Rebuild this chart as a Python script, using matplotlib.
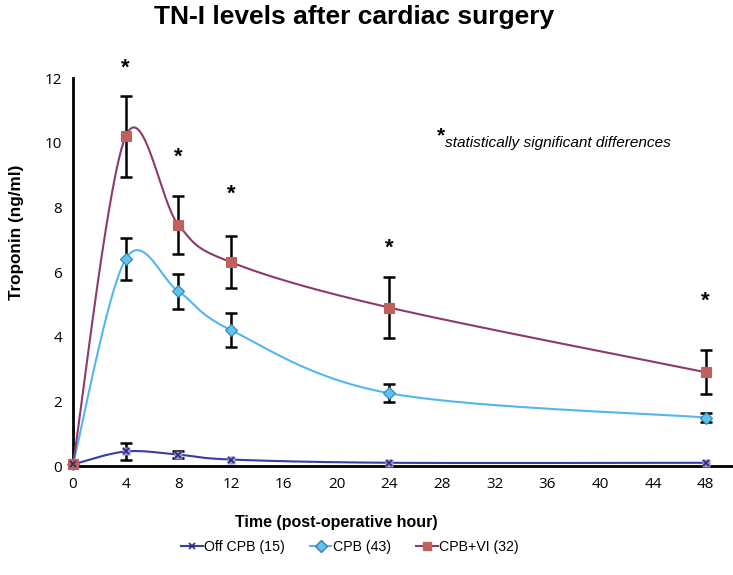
import numpy as np
import matplotlib
matplotlib.use("Agg")
import matplotlib.pyplot as plt
from matplotlib.lines import Line2D

# ---- data ----
hours = [0, 4, 8, 12, 24, 48]
off_cpb = [0.05, 0.45, 0.35, 0.2, 0.1, 0.1]
off_cpb_err = [0.0, 0.25, 0.1, 0.0, 0.0, 0.0]
cpb = [0.05, 6.4, 5.4, 4.2, 2.25, 1.5]
cpb_err = [0.0, 0.65, 0.55, 0.52, 0.28, 0.15]
cpb_vi = [0.05, 10.2, 7.45, 6.3, 4.9, 2.9]
cpb_vi_err = [0.0, 1.25, 0.9, 0.8, 0.95, 0.68]
star_x = [4, 8, 12, 24, 48]
star_y = [12.3, 9.55, 8.4, 6.75, 5.1]
labels = ["Off CPB (15)", "CPB (43)", "CPB+VI (32)"]

C_OFF, C_CPB, C_VI = "#3a3aa8", "#55b6ef", "#8c3a6c"
SANS = ["Liberation Sans", "DejaVu Sans"]


def smooth(xs, ys, sx=13.2, sy=32.3, n=60):
    """Excel-style smoothed line: cubic Bezier, control points from neighbours (in pixel space)."""
    P = np.column_stack([np.array(xs, float) * sx, np.array(ys, float) * sy])
    out = []
    for i in range(len(P) - 1):
        p0 = P[i - 1] if i > 0 else P[i]
        p1, p2 = P[i], P[i + 1]
        p3 = P[i + 2] if i + 2 < len(P) else P[i + 1]
        c1 = p1 + (p2 - p0) / 6
        c2 = p2 - (p3 - p1) / 6
        t = np.linspace(0, 1, n)[:, None]
        seg = (1 - t) ** 3 * p1 + 3 * (1 - t) ** 2 * t * c1 + 3 * (1 - t) * t ** 2 * c2 + t ** 3 * p2
        out.append(seg if i == 0 else seg[1:])
    B = np.vstack(out)
    return B[:, 0] / sx, B[:, 1] / sy


fig = plt.figure(figsize=(7.33, 5.75), dpi=100)
ax = fig.add_axes([73 / 733, 1 - 466 / 575, 659 / 733, 388 / 575])
ax.set_xlim(0, 50)
ax.set_ylim(0, 12)

series = [
    (off_cpb, off_cpb_err, C_OFF, "x", "#9b8fd6", 6),
    (cpb, cpb_err, C_CPB, "D", "#5cc4f2", 6),
    (cpb_vi, cpb_vi_err, C_VI, "s", "#c0605f", 7),
]
for ys, err, col, mk, mfc, ms in series:
    sx, sy = smooth(hours, ys)
    ax.plot(sx, sy, color=col, lw=1.5, zorder=3)
    keep = [i for i in range(len(hours)) if err[i] > 0]
    ax.errorbar([hours[i] for i in keep], [ys[i] for i in keep], yerr=[err[i] for i in keep],
                fmt="none", ecolor="black", elinewidth=1.8, capsize=4, capthick=1.8, zorder=4)
    if mk == "x":
        ax.plot(hours, ys, ls="none", marker="s", ms=6, mfc=mfc, mec="none", zorder=5, clip_on=False)
        ax.plot(hours, ys, ls="none", marker="x", ms=5, mew=1.2, color="#2b2b70", zorder=6, clip_on=False)
    else:
        ax.plot(hours, ys, ls="none", marker=mk, ms=ms, mfc=mfc,
                mec="#3a7fa8" if mk == "D" else mfc, mew=0.8, zorder=5, clip_on=False)

for x, y in zip(star_x, star_y):
    ax.text(x, y, "*", ha="center", va="center", fontsize=16, fontweight="bold",
            family=SANS, clip_on=False)

ax.text(28.2, 10.2, "*", ha="right", va="center", fontsize=15, fontweight="bold", family=SANS)
ax.text(28.2, 10.0, "statistically significant differences", ha="left", va="center",
        fontsize=11.1, style="italic", family=SANS)

for s in ("top", "right"):
    ax.spines[s].set_visible(False)
ax.spines["left"].set_linewidth(2)
ax.spines["bottom"].set_linewidth(2)
ax.set_xticks(range(0, 49, 4))
ax.set_yticks(range(0, 13, 2))
ax.tick_params(length=0, pad=8, labelsize=11)
for t in ax.get_xticklabels() + ax.get_yticklabels():
    t.set_family(["Open Sans", "DejaVu Sans"])

fig.text(17 / 733, 1 - 232 / 575, "Troponin (ng/ml)", ha="center", va="center", rotation=90,
         fontsize=12.3, fontweight="bold", family=SANS)
fig.text(336 / 733, 1 - 522 / 575, "Time (post-operative hour)", ha="center", va="center",
         fontsize=11.5, fontweight="bold", family=SANS)
fig.text(354 / 733, 1 - 17 / 575, "TN-I levels after cardiac surgery", ha="center", va="center",
         fontsize=19, fontweight="bold", family=SANS)

handles = [
    Line2D([], [], color=C_OFF, marker="x", ms=5, mew=1.2, mec="#2b2b70", lw=1.5),
    Line2D([], [], color=C_CPB, marker="D", ms=6, mfc="#5cc4f2", mec="#3a7fa8", lw=1.5),
    Line2D([], [], color=C_VI, marker="s", ms=6, mfc="#c0605f", mec="#c0605f", lw=1.5),
]
fig.legend(handles, labels, loc="center", bbox_to_anchor=(350 / 733, 1 - 547 / 575), ncol=3,
           frameon=False, handlelength=1.5, handletextpad=0.1, columnspacing=1.8,
           prop={"family": SANS, "size": 10.2})

fig.savefig("out.png", dpi=100, facecolor="white")
